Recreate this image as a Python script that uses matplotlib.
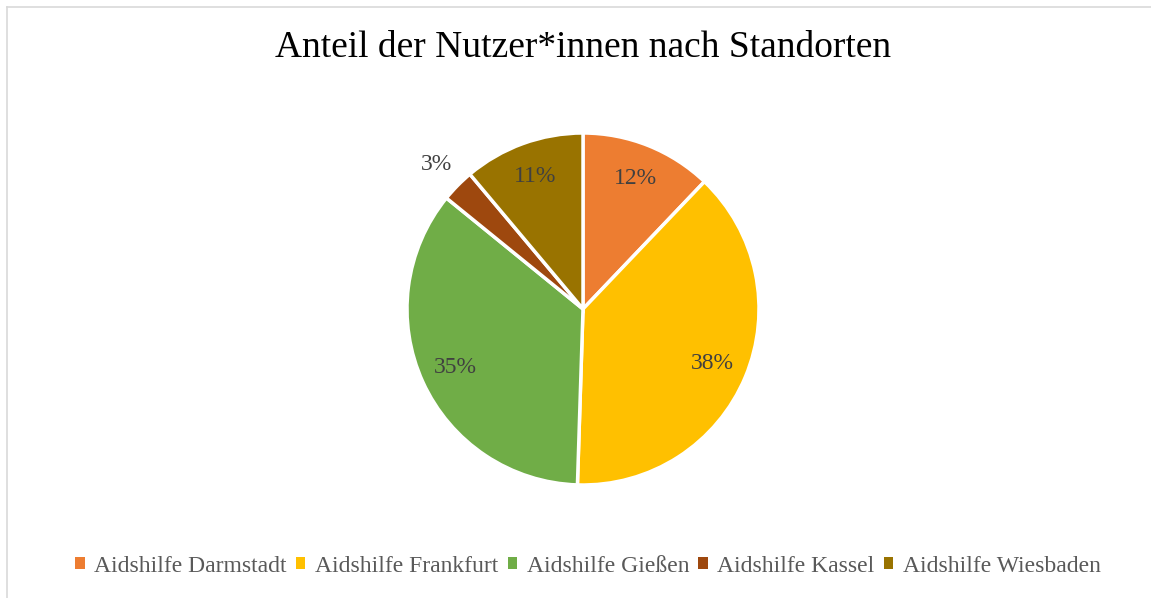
import matplotlib.pyplot as plt
from matplotlib.lines import Line2D
from matplotlib.patches import Patch

plt.rcParams['font.family'] = ['Liberation Serif', 'DejaVu Serif']

standorte = ["Aidshilfe Darmstadt", "Aidshilfe Frankfurt", "Aidshilfe Gießen",
             "Aidshilfe Kassel", "Aidshilfe Wiesbaden"]
anteile = [12, 38, 35, 3, 11]
farben = ["#ED7D31", "#FFC000", "#70AD47", "#9E480E", "#997300"]

W, H = 1151, 598
fig = plt.figure(figsize=(W / 100, H / 100), dpi=100)

# light frame, only top and left edges visible
fx, fy = 6.5 / W, 1 - 6.5 / H
fig.lines.append(Line2D([fx, 1.0], [fy, fy], transform=fig.transFigure,
                        color="#D9D9D9", linewidth=1.2))
fig.lines.append(Line2D([fx, fx], [0, fy], transform=fig.transFigure,
                        color="#D9D9D9", linewidth=1.2))

cx, cy, r = 583, 309, 176
ax = fig.add_axes([(cx - r) / W, (H - cy - r) / H, 2 * r / W, 2 * r / H])

wedges, texts = ax.pie(anteile, colors=farben, startangle=90, counterclock=False,
                       labels=[f"{v}%" for v in anteile], labeldistance=0.8,
                       wedgeprops=dict(edgecolor="white", linewidth=2.5),
                       textprops=dict(color="#404040", fontsize=17))
for t in texts:
    t.set_ha("center")
    t.set_va("center")
# small slice label sits outside
x, y = texts[3].get_position()
texts[3].set_position((x / 0.8 * 1.17, y / 0.8 * 1.17))
ax.set_xlim(-1, 1)
ax.set_ylim(-1, 1)
ax.set_aspect("equal")

fig.text(583 / W, 1 - 48 / H, "Anteil der Nutzer*innen nach Standorten",
         ha="center", va="center", fontsize=27, color="black")

handles = [Patch(facecolor=c, edgecolor="none") for c in farben]
fig.legend(handles, standorte, loc="center", bbox_to_anchor=(588 / W, 1 - 566 / H),
           ncol=5, frameon=False, fontsize=17, handlelength=0.4, handleheight=0.4,
           handletextpad=0.4, columnspacing=0.4, labelcolor="#595959")

fig.savefig("out.png", dpi=100)
